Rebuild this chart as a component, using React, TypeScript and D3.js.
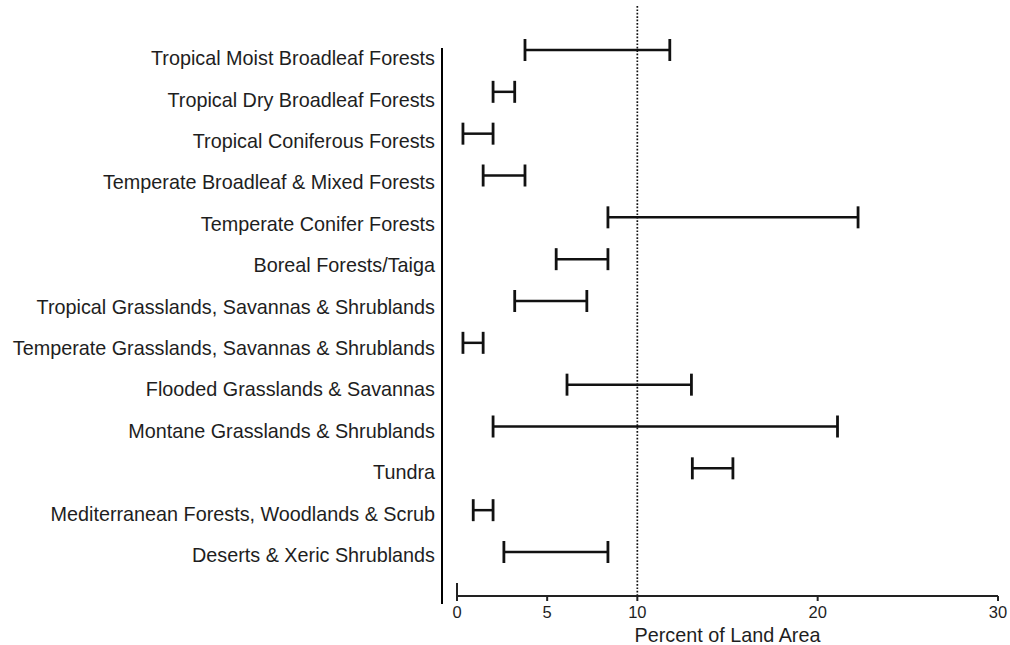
import React, { useEffect, useRef } from 'react';
import * as d3 from 'd3';

const biomes = [
  'Tropical Moist Broadleaf Forests',
  'Tropical Dry Broadleaf Forests',
  'Tropical Coniferous Forests',
  'Temperate Broadleaf & Mixed Forests',
  'Temperate Conifer Forests',
  'Boreal Forests/Taiga',
  'Tropical Grasslands, Savannas & Shrublands',
  'Temperate Grasslands, Savannas & Shrublands',
  'Flooded Grasslands & Savannas',
  'Montane Grasslands & Shrublands',
  'Tundra',
  'Mediterranean Forests, Woodlands & Scrub',
  'Deserts & Xeric Shrublands',
];

// low / high ends of each range (percent of land area)
const lowValues = [3.77, 2.0, 0.33, 1.45, 8.37, 5.5, 3.2, 0.33, 6.1, 2.0, 13.05, 0.9, 2.6];
const highValues = [11.8, 3.2, 2.0, 3.77, 22.24, 8.37, 7.2, 1.45, 13.0, 21.1, 15.3, 2.0, 8.37];

const xTicks = [0, 5, 10, 20, 30];
const refLine = 10;
const xTitle = 'Percent of Land Area';

const W = 1010;
const H = 645;
const FONT = '"Liberation Sans", Arial, sans-serif';

const App = () => {
  const ref = useRef<SVGSVGElement>(null);

  useEffect(() => {
    const svg = d3.select(ref.current);
    svg.selectAll('*').remove();

    const x = d3.scaleLinear().domain([0, 30]).range([457, 998]);
    // bars and labels sit on slightly different grids in the original
    const yBar = d3.scalePoint<string>().domain(biomes).range([50, 552]);
    const yLabel = d3.scalePoint<string>().domain(biomes).range([58, 555]);
    const axisY = 596;
    const axisX = 442;

    // reference dotted line
    svg.append('line')
      .attr('x1', x(refLine)).attr('x2', x(refLine))
      .attr('y1', 6).attr('y2', axisY)
      .attr('stroke', '#111').attr('stroke-width', 1.7)
      .attr('stroke-dasharray', '1.7,1.7');

    // y axis line
    svg.append('line')
      .attr('x1', axisX).attr('x2', axisX)
      .attr('y1', 48).attr('y2', 604)
      .attr('stroke', '#000').attr('stroke-width', 2);

    // category labels
    svg.append('g')
      .selectAll('text')
      .data(biomes)
      .enter()
      .append('text')
      .attr('x', 435)
      .attr('y', d => yLabel(d)!)
      .attr('dy', '0.36em')
      .attr('text-anchor', 'end')
      .attr('font-family', FONT)
      .attr('font-size', 19.8)
      .attr('fill', '#1e1e1e')
      .text(d => d);

    // x axis
    const gx = svg.append('g');
    gx.append('line')
      .attr('x1', x(0)).attr('x2', x(30))
      .attr('y1', axisY).attr('y2', axisY)
      .attr('stroke', '#222').attr('stroke-width', 2);
    gx.selectAll('line.tick')
      .data(xTicks)
      .enter()
      .append('line')
      .attr('class', 'tick')
      .attr('x1', d => x(d)).attr('x2', d => x(d))
      .attr('y1', d => (d === 0 ? 583 : axisY))
      .attr('y2', 601)
      .attr('stroke', '#222').attr('stroke-width', 2);
    gx.selectAll('text')
      .data(xTicks)
      .enter()
      .append('text')
      .attr('x', d => x(d))
      .attr('y', 618)
      .attr('text-anchor', 'middle')
      .attr('font-family', FONT)
      .attr('font-size', 16.5)
      .attr('fill', '#1e1e1e')
      .text(d => d);
    gx.append('text')
      .attr('x', (x(0) + x(30)) / 2)
      .attr('y', 642)
      .attr('text-anchor', 'middle')
      .attr('font-family', FONT)
      .attr('font-size', 19.8)
      .attr('fill', '#1e1e1e')
      .text(xTitle);

    // range bars
    const rows = biomes.map((b, i) => ({ b, lo: lowValues[i], hi: highValues[i] }));
    const g = svg.append('g').attr('stroke', '#111');
    g.selectAll('line.whisker')
      .data(rows)
      .enter()
      .append('line')
      .attr('class', 'whisker')
      .attr('x1', d => x(d.lo)).attr('x2', d => x(d.hi))
      .attr('y1', d => yBar(d.b)!).attr('y2', d => yBar(d.b)!)
      .attr('stroke-width', 2.5);
    g.selectAll('line.capLo')
      .data(rows)
      .enter()
      .append('line')
      .attr('class', 'capLo')
      .attr('x1', d => x(d.lo)).attr('x2', d => x(d.lo))
      .attr('y1', d => yBar(d.b)! - 11).attr('y2', d => yBar(d.b)! + 11)
      .attr('stroke-width', 2.8);
    g.selectAll('line.capHi')
      .data(rows)
      .enter()
      .append('line')
      .attr('class', 'capHi')
      .attr('x1', d => x(d.hi)).attr('x2', d => x(d.hi))
      .attr('y1', d => yBar(d.b)! - 11).attr('y2', d => yBar(d.b)! + 11)
      .attr('stroke-width', 2.8);
  }, []);

  return (
    <svg
      ref={ref}
      width={W}
      height={H}
      style={{ position: 'absolute', left: 0, top: 0, background: '#fff' }}
    />
  );
};

export default App;
